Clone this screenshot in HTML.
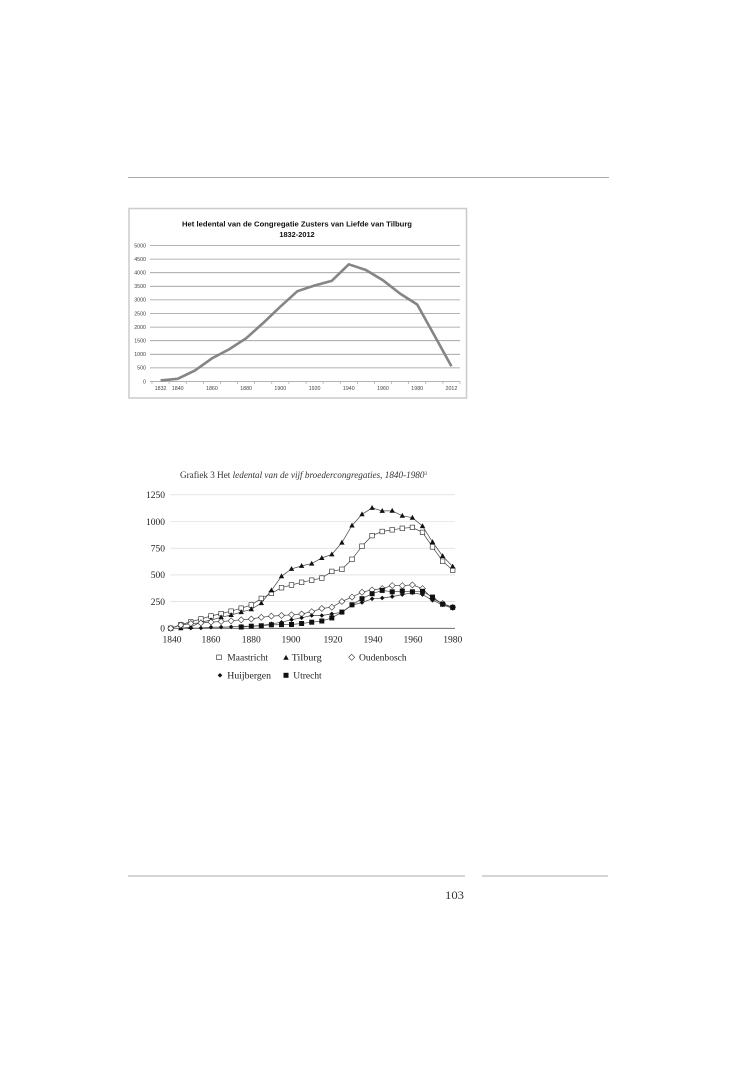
<!DOCTYPE html>
<html><head><meta charset="utf-8">
<style>
html,body{margin:0;padding:0;background:#fff;}
svg{display:block;}
</style></head>
<body>
<svg width="738" height="1068" viewBox="0 0 738 1068" xmlns="http://www.w3.org/2000/svg">
<defs>
<g id="mSq"><rect x="-2.3" y="-2.3" width="4.6" height="4.6" fill="#fff" stroke="#222" stroke-width="0.6"/></g>
<g id="mTri"><polygon points="0,-2.9 2.7,2 -2.7,2" fill="#111"/></g>
<g id="mDia"><polygon points="0,-3 3,0 0,3 -3,0" fill="#fff" stroke="#333" stroke-width="0.6"/></g>
<g id="mHd"><polygon points="0,-2.3 2.3,0 0,2.3 -2.3,0" fill="#111"/></g>
<g id="mFs"><rect x="-2.5" y="-2.5" width="5" height="5" fill="#111"/></g>
</defs>
<rect width="738" height="1068" fill="#fff"/>

<!-- page rules -->
<line x1="128" y1="177.5" x2="609" y2="177.5" stroke="#8f8f8f" stroke-width="0.8"/>
<line x1="128" y1="876" x2="465" y2="876" stroke="#8f8f8f" stroke-width="0.8"/>
<line x1="482" y1="876" x2="608" y2="876" stroke="#8f8f8f" stroke-width="0.8"/>
<text x="445" y="899" font-family="Liberation Serif, serif" font-size="12" fill="#333" textLength="19" lengthAdjust="spacingAndGlyphs">103</text>

<!-- CHART 1 -->
<rect x="129" y="208.5" width="337.5" height="189.5" fill="#fff" stroke="#cbcbcb" stroke-width="1.5"/>
<text x="297" y="226.5" text-anchor="middle" font-family="Liberation Sans, sans-serif" font-weight="bold" font-size="7.2" fill="#111" textLength="230" lengthAdjust="spacingAndGlyphs">Het ledental van de  Congregatie Zusters van Liefde van Tilburg</text>
<text x="297" y="237" text-anchor="middle" font-family="Liberation Sans, sans-serif" font-weight="bold" font-size="7.4" fill="#111">1832-2012</text>
<g stroke="#9a9a9a" stroke-width="0.8">
<line x1="150" y1="245.5" x2="460" y2="245.5"/>
<line x1="150" y1="259.1" x2="460" y2="259.1"/>
<line x1="150" y1="272.7" x2="460" y2="272.7"/>
<line x1="150" y1="286.3" x2="460" y2="286.3"/>
<line x1="150" y1="299.9" x2="460" y2="299.9"/>
<line x1="150" y1="313.5" x2="460" y2="313.5"/>
<line x1="150" y1="327.1" x2="460" y2="327.1"/>
<line x1="150" y1="340.7" x2="460" y2="340.7"/>
<line x1="150" y1="354.3" x2="460" y2="354.3"/>
<line x1="150" y1="367.9" x2="460" y2="367.9"/>
<line x1="150" y1="381.5" x2="460" y2="381.5"/>
</g>
<g stroke="#9a9a9a" stroke-width="0.6">
<line x1="152" y1="381.5" x2="152" y2="384"/><line x1="169.1" y1="381.5" x2="169.1" y2="384"/><line x1="186.2" y1="381.5" x2="186.2" y2="384"/><line x1="203.3" y1="381.5" x2="203.3" y2="384"/><line x1="220.4" y1="381.5" x2="220.4" y2="384"/><line x1="237.6" y1="381.5" x2="237.6" y2="384"/><line x1="254.7" y1="381.5" x2="254.7" y2="384"/><line x1="271.8" y1="381.5" x2="271.8" y2="384"/><line x1="288.9" y1="381.5" x2="288.9" y2="384"/><line x1="306" y1="381.5" x2="306" y2="384"/><line x1="323.1" y1="381.5" x2="323.1" y2="384"/><line x1="340.2" y1="381.5" x2="340.2" y2="384"/><line x1="357.3" y1="381.5" x2="357.3" y2="384"/><line x1="374.4" y1="381.5" x2="374.4" y2="384"/><line x1="391.5" y1="381.5" x2="391.5" y2="384"/><line x1="408.7" y1="381.5" x2="408.7" y2="384"/><line x1="425.8" y1="381.5" x2="425.8" y2="384"/><line x1="442.9" y1="381.5" x2="442.9" y2="384"/><line x1="460" y1="381.5" x2="460" y2="384"/>
</g>
<g font-family="Liberation Sans, sans-serif" font-size="5.3" fill="#444" text-anchor="end">
<text x="146" y="247.3">5000</text>
<text x="146" y="260.9">4500</text>
<text x="146" y="274.5">4000</text>
<text x="146" y="288.1">3500</text>
<text x="146" y="301.7">3000</text>
<text x="146" y="315.3">2500</text>
<text x="146" y="328.9">2000</text>
<text x="146" y="342.5">1500</text>
<text x="146" y="356.1">1000</text>
<text x="146" y="369.7">500</text>
<text x="146" y="383.3">0</text>
</g>
<g font-family="Liberation Sans, sans-serif" font-size="5.3" fill="#444" text-anchor="middle">
<text x="160.6" y="390">1832</text>
<text x="177.7" y="390">1840</text>
<text x="211.9" y="390">1860</text>
<text x="246.1" y="390">1880</text>
<text x="280.3" y="390">1900</text>
<text x="314.6" y="390">1920</text>
<text x="348.8" y="390">1940</text>
<text x="383" y="390">1960</text>
<text x="417.2" y="390">1980</text>
<text x="451.4" y="390">2012</text>
</g>
<polyline fill="none" stroke="#858585" stroke-width="2.6" stroke-linejoin="round" points="160.6,380.4 177.7,378.8 194.8,370.6 211.9,358.4 229,349.4 246.1,338.3 263.2,323 280.3,306.7 297.4,291.2 314.6,285.5 331.7,280.9 348.8,264.3 365.9,270 383,280.3 400.1,293.6 417.2,304.5 434.3,335.3 451.4,366.3"/>

<!-- CHART 2 -->
<text x="180" y="478" font-family="Liberation Serif, serif" font-size="9" fill="#333" textLength="247" lengthAdjust="spacingAndGlyphs">Grafiek 3 Het <tspan font-style="italic">ledental van de vijf broedercongregaties, 1840-1980</tspan><tspan font-size="5" dy="-3">3</tspan></text>
<g stroke="#d4d4d4" stroke-width="0.6">
<line x1="170" y1="494.8" x2="455" y2="494.8"/>
<line x1="170" y1="521.5" x2="455" y2="521.5"/>
<line x1="170" y1="548.2" x2="455" y2="548.2"/>
<line x1="170" y1="574.9" x2="455" y2="574.9"/>
<line x1="170" y1="601.6" x2="455" y2="601.6"/>
</g>
<line x1="168" y1="628.3" x2="455" y2="628.3" stroke="#555" stroke-width="0.8"/>
<g font-family="Liberation Serif, serif" font-size="9.5" fill="#222" text-anchor="end">
<text x="165" y="498.1">1250</text>
<text x="165" y="524.8">1000</text>
<text x="165" y="551.5">750</text>
<text x="165" y="578.2">500</text>
<text x="165" y="604.9">250</text>
<text x="165" y="631.6">0</text>
</g>
<g font-family="Liberation Serif, serif" font-size="9.5" fill="#222" text-anchor="middle">
<text x="172" y="642.5">1840</text>
<text x="211" y="642.5">1860</text>
<text x="251.3" y="642.5">1880</text>
<text x="291" y="642.5">1900</text>
<text x="333" y="642.5">1920</text>
<text x="373" y="642.5">1940</text>
<text x="413" y="642.5">1960</text>
<text x="452.7" y="642.5">1980</text>
</g>

<g fill="none" stroke="#444" stroke-width="0.7">
<polyline points="170.7,628.3 180.8,624.6 190.8,621.9 200.9,619 211,616 221.1,613.6 231.1,611.2 241.2,608.2 251.3,605 261.3,598.4 271.4,593.3 281.5,587.7 291.5,585 301.6,582.3 311.7,580.2 321.8,578.1 331.8,571.4 341.9,569.3 352,559.3 362,546.2 372.1,535.6 382.2,531.5 392.2,529.8 402.3,528.3 412.4,527.4 422.5,532.4 432.5,546.9 442.6,561.2 452.7,570.1"/>
<polyline points="180.8,628.3 190.8,627 200.9,622.1 211,620.1 221.1,617.3 231.1,615 241.2,612.1 251.3,609.3 261.3,603.1 271.4,590.4 281.5,576.3 291.5,568.9 301.6,565.9 311.7,563.6 321.8,558 331.8,554.4 341.9,542.6 352,525.5 362,514.3 372.1,507.9 382.2,510.9 392.2,510.8 402.3,515.8 412.4,517.7 422.5,526.1 432.5,542 442.6,556 452.7,566.5"/>
<polyline points="170.7,628.3 180.8,625.1 190.8,623.5 200.9,623 211,622.1 221.1,621.5 231.1,620.8 241.2,619.8 251.3,619 261.3,617.3 271.4,616.1 281.5,615.5 291.5,614.8 301.6,614 311.7,611.7 321.8,608.5 331.8,607.2 341.9,601.5 352,597.1 362,592.2 372.1,589.9 382.2,588.6 392.2,585.6 402.3,585.7 412.4,584.9 422.5,588.6 432.5,598.6 442.6,603.5 452.7,607.3"/>
<polyline points="190.8,628.1 200.9,628 211,627.2 221.1,627.1 231.1,626.9 241.2,626.3 251.3,626.1 261.3,625.5 271.4,623.8 281.5,622.3 291.5,619.7 301.6,617.8 311.7,615.5 321.8,615.5 331.8,613.9 341.9,612.3 352,605.2 362,602.5 372.1,598.8 382.2,598 392.2,596.6 402.3,594.6 412.4,592.7 422.5,594.6 432.5,600.3 442.6,604.8 452.7,608.3"/>
<polyline points="241.2,627 251.3,626.2 261.3,625.8 271.4,624.8 281.5,624.6 291.5,624.5 301.6,623.5 311.7,622.2 321.8,621 331.8,617.9 341.9,612.1 352,604.8 362,598.7 372.1,593.7 382.2,590.4 392.2,591.8 402.3,591.1 412.4,591.8 422.5,591.3 432.5,597.1 442.6,604.2 452.7,607.4"/>
</g>

<!-- Maastricht -->
<g>
<use href="#mSq" x="170.7" y="628.3"/><use href="#mSq" x="180.8" y="624.6"/><use href="#mSq" x="190.8" y="621.9"/><use href="#mSq" x="200.9" y="619"/><use href="#mSq" x="211" y="616"/><use href="#mSq" x="221.1" y="613.6"/><use href="#mSq" x="231.1" y="611.2"/><use href="#mSq" x="241.2" y="608.2"/><use href="#mSq" x="251.3" y="605"/><use href="#mSq" x="261.3" y="598.4"/><use href="#mSq" x="271.4" y="593.3"/><use href="#mSq" x="281.5" y="587.7"/><use href="#mSq" x="291.5" y="585"/><use href="#mSq" x="301.6" y="582.3"/><use href="#mSq" x="311.7" y="580.2"/><use href="#mSq" x="321.8" y="578.1"/><use href="#mSq" x="331.8" y="571.4"/><use href="#mSq" x="341.9" y="569.3"/><use href="#mSq" x="352" y="559.3"/><use href="#mSq" x="362" y="546.2"/><use href="#mSq" x="372.1" y="535.6"/><use href="#mSq" x="382.2" y="531.5"/><use href="#mSq" x="392.2" y="529.8"/><use href="#mSq" x="402.3" y="528.3"/><use href="#mSq" x="412.4" y="527.4"/><use href="#mSq" x="422.5" y="532.4"/><use href="#mSq" x="432.5" y="546.9"/><use href="#mSq" x="442.6" y="561.2"/><use href="#mSq" x="452.7" y="570.1"/>
</g>
<!-- Tilburg -->
<g>
<use href="#mTri" x="180.8" y="628.3"/><use href="#mTri" x="190.8" y="627"/><use href="#mTri" x="200.9" y="622.1"/><use href="#mTri" x="211" y="620.1"/><use href="#mTri" x="221.1" y="617.3"/><use href="#mTri" x="231.1" y="615"/><use href="#mTri" x="241.2" y="612.1"/><use href="#mTri" x="251.3" y="609.3"/><use href="#mTri" x="261.3" y="603.1"/><use href="#mTri" x="271.4" y="590.4"/><use href="#mTri" x="281.5" y="576.3"/><use href="#mTri" x="291.5" y="568.9"/><use href="#mTri" x="301.6" y="565.9"/><use href="#mTri" x="311.7" y="563.6"/><use href="#mTri" x="321.8" y="558"/><use href="#mTri" x="331.8" y="554.4"/><use href="#mTri" x="341.9" y="542.6"/><use href="#mTri" x="352" y="525.5"/><use href="#mTri" x="362" y="514.3"/><use href="#mTri" x="372.1" y="507.9"/><use href="#mTri" x="382.2" y="510.9"/><use href="#mTri" x="392.2" y="510.8"/><use href="#mTri" x="402.3" y="515.8"/><use href="#mTri" x="412.4" y="517.7"/><use href="#mTri" x="422.5" y="526.1"/><use href="#mTri" x="432.5" y="542"/><use href="#mTri" x="442.6" y="556"/><use href="#mTri" x="452.7" y="566.5"/>
</g>
<!-- Oudenbosch -->
<g>
<use href="#mDia" x="170.7" y="628.3"/><use href="#mDia" x="180.8" y="625.1"/><use href="#mDia" x="190.8" y="623.5"/><use href="#mDia" x="200.9" y="623"/><use href="#mDia" x="211" y="622.1"/><use href="#mDia" x="221.1" y="621.5"/><use href="#mDia" x="231.1" y="620.8"/><use href="#mDia" x="241.2" y="619.8"/><use href="#mDia" x="251.3" y="619"/><use href="#mDia" x="261.3" y="617.3"/><use href="#mDia" x="271.4" y="616.1"/><use href="#mDia" x="281.5" y="615.5"/><use href="#mDia" x="291.5" y="614.8"/><use href="#mDia" x="301.6" y="614"/><use href="#mDia" x="311.7" y="611.7"/><use href="#mDia" x="321.8" y="608.5"/><use href="#mDia" x="331.8" y="607.2"/><use href="#mDia" x="341.9" y="601.5"/><use href="#mDia" x="352" y="597.1"/><use href="#mDia" x="362" y="592.2"/><use href="#mDia" x="372.1" y="589.9"/><use href="#mDia" x="382.2" y="588.6"/><use href="#mDia" x="392.2" y="585.6"/><use href="#mDia" x="402.3" y="585.7"/><use href="#mDia" x="412.4" y="584.9"/><use href="#mDia" x="422.5" y="588.6"/><use href="#mDia" x="432.5" y="598.6"/><use href="#mDia" x="442.6" y="603.5"/><use href="#mDia" x="452.7" y="607.3"/>
</g>
<!-- Huijbergen -->
<g>
<use href="#mHd" x="190.8" y="628.1"/><use href="#mHd" x="200.9" y="628"/><use href="#mHd" x="211" y="627.2"/><use href="#mHd" x="221.1" y="627.1"/><use href="#mHd" x="231.1" y="626.9"/><use href="#mHd" x="241.2" y="626.3"/><use href="#mHd" x="251.3" y="626.1"/><use href="#mHd" x="261.3" y="625.5"/><use href="#mHd" x="271.4" y="623.8"/><use href="#mHd" x="281.5" y="622.3"/><use href="#mHd" x="291.5" y="619.7"/><use href="#mHd" x="301.6" y="617.8"/><use href="#mHd" x="311.7" y="615.5"/><use href="#mHd" x="321.8" y="615.5"/><use href="#mHd" x="331.8" y="613.9"/><use href="#mHd" x="341.9" y="612.3"/><use href="#mHd" x="352" y="605.2"/><use href="#mHd" x="362" y="602.5"/><use href="#mHd" x="372.1" y="598.8"/><use href="#mHd" x="382.2" y="598"/><use href="#mHd" x="392.2" y="596.6"/><use href="#mHd" x="402.3" y="594.6"/><use href="#mHd" x="412.4" y="592.7"/><use href="#mHd" x="422.5" y="594.6"/><use href="#mHd" x="432.5" y="600.3"/><use href="#mHd" x="442.6" y="604.8"/><use href="#mHd" x="452.7" y="608.3"/>
</g>
<!-- Utrecht -->
<g>
<use href="#mFs" x="241.2" y="627"/><use href="#mFs" x="251.3" y="626.2"/><use href="#mFs" x="261.3" y="625.8"/><use href="#mFs" x="271.4" y="624.8"/><use href="#mFs" x="281.5" y="624.6"/><use href="#mFs" x="291.5" y="624.5"/><use href="#mFs" x="301.6" y="623.5"/><use href="#mFs" x="311.7" y="622.2"/><use href="#mFs" x="321.8" y="621"/><use href="#mFs" x="331.8" y="617.9"/><use href="#mFs" x="341.9" y="612.1"/><use href="#mFs" x="352" y="604.8"/><use href="#mFs" x="362" y="598.7"/><use href="#mFs" x="372.1" y="593.7"/><use href="#mFs" x="382.2" y="590.4"/><use href="#mFs" x="392.2" y="591.8"/><use href="#mFs" x="402.3" y="591.1"/><use href="#mFs" x="412.4" y="591.8"/><use href="#mFs" x="422.5" y="591.3"/><use href="#mFs" x="432.5" y="597.1"/><use href="#mFs" x="442.6" y="604.2"/><use href="#mFs" x="452.7" y="607.4"/>
</g>

<!-- legend -->
<use href="#mSq" x="219" y="657.3"/>
<use href="#mTri" x="286" y="657.8"/>
<use href="#mDia" x="351.7" y="657.3"/>
<use href="#mHd" x="220" y="675.3"/>
<use href="#mFs" x="286" y="675.3"/>
<g font-family="Liberation Serif, serif" font-size="9.5" fill="#222">
<text x="227.3" y="660.6" textLength="40.7" lengthAdjust="spacingAndGlyphs">Maastricht</text>
<text x="291.7" y="660.6" textLength="30" lengthAdjust="spacingAndGlyphs">Tilburg</text>
<text x="359" y="660.6" textLength="47.7" lengthAdjust="spacingAndGlyphs">Oudenbosch</text>
<text x="227.3" y="678.6" textLength="43.7" lengthAdjust="spacingAndGlyphs">Huijbergen</text>
<text x="293.3" y="678.6" textLength="28.4" lengthAdjust="spacingAndGlyphs">Utrecht</text>
</g>
</svg>
</body></html>
